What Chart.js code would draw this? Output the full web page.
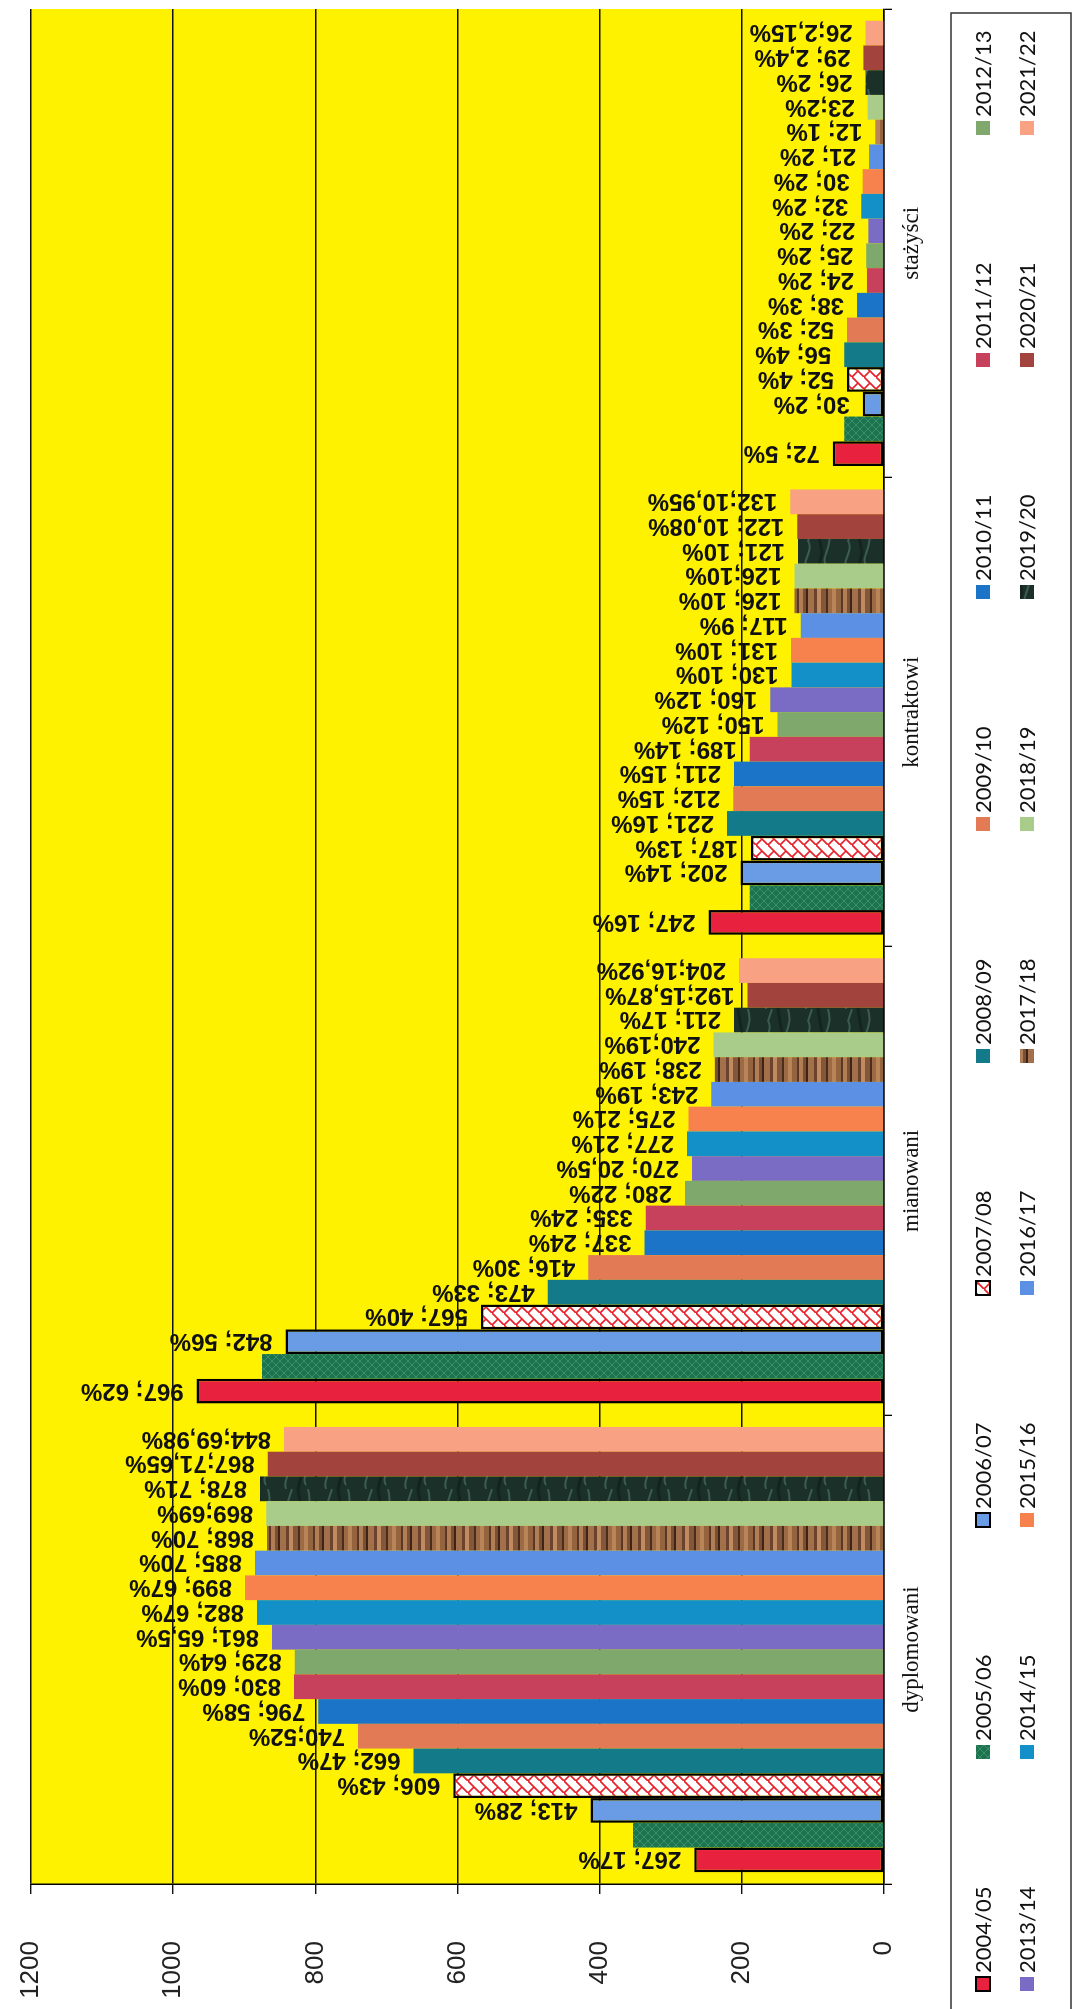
<!DOCTYPE html>
<html>
<head>
<meta charset="utf-8">
<script src="https://cdn.jsdelivr.net/npm/chart.js@4.4.0/dist/chart.umd.min.js"></script>
<style>
  body { margin: 0; background: #fff; overflow: hidden; }
  #wrap {
    position: absolute; left: 0; top: 0;
    width: 2009px; height: 1079px;
    transform-origin: 0 0;
    transform: translate(0, 2009px) rotate(-90deg);
  }
</style>
</head>
<body>
<div id="wrap"><canvas id="chart" width="2009" height="1079"></canvas></div>
<script>
// categories and series
const categories = ['dyplomowani', 'mianowani', 'kontraktowi', 'stażyści'];
const seasons = ['2004/05', '2005/06', '2006/07', '2007/08', '2008/09', '2009/10', '2010/11', '2011/12', '2012/13',
                 '2013/14', '2014/15', '2015/16', '2016/17', '2017/18', '2018/19', '2019/20', '2020/21', '2021/22'];

// values per category, one per season
const dyplomowani = [267, 353, 413, 606, 662, 740, 796, 830, 829, 861, 882, 899, 885, 868, 869, 878, 867, 844];
const mianowani   = [967, 875, 842, 567, 473, 416, 337, 335, 280, 270, 277, 275, 243, 238, 240, 211, 192, 204];
const kontraktowi = [247, 189, 202, 187, 221, 212, 211, 189, 150, 160, 130, 131, 117, 126, 126, 121, 122, 132];
const stazysci    = [72, 56, 30, 52, 56, 52, 38, 24, 25, 22, 32, 30, 21, 12, 23, 26, 29, 26];

// percent part of the data labels (2005/06 has no label)
const dyplomowaniPct = ['; 17%', null, '; 28%', '; 43%', '; 47%', ';52%', '; 58%', '; 60%', '; 64%', '; 65,5%', '; 67%', '; 67%', '; 70%', '; 70%', ';69%', '; 71%', ';71,65%', ';69,98%'];
const mianowaniPct   = ['; 62%', null, '; 56%', '; 40%', '; 33%', '; 30%', '; 24%', '; 24%', '; 22%', '; 20,5%', '; 21%', '; 21%', '; 19%', '; 19%', ';19%', '; 17%', ';15,87%', ';16,92%'];
const kontraktowiPct = ['; 16%', null, '; 14%', '; 13%', '; 16%', '; 15%', '; 15%', '; 14%', '; 12%', '; 12%', '; 10%', '; 10%', '; 9%', '; 10%', ';10%', '; 10%', '; 10,08%', ';10,95%'];
const stazysciPct    = ['; 5%', null, '; 2%', '; 4%', '; 4%', '; 3%', '; 3%', '; 2%', '; 2%', '; 2%', '; 2%', '; 2%', '; 2%', '; 1%', ';2%', '; 2%', '; 2,4%', ';2,15%'];

const valueTicks = [0, 200, 400, 600, 800, 1000, 1200];

// fills
function makePattern(w, h, draw) {
    const c = document.createElement('canvas');
    c.width = w; c.height = h;
    const g = c.getContext('2d');
    draw(g, w, h);
    return g.createPattern(c, 'repeat');
}

const greenTexture = makePattern(8, 8, (g) => {
    g.fillStyle = '#1b744d'; g.fillRect(0, 0, 8, 8);
    g.strokeStyle = '#3b8f6c'; g.lineWidth = 1;
    g.beginPath();
    g.moveTo(0, 0); g.lineTo(8, 8);
    g.moveTo(8, 0); g.lineTo(0, 8);
    g.stroke();
});

const redHatch = makePattern(12, 12, (g) => {
    g.fillStyle = '#ffffff'; g.fillRect(0, 0, 12, 12);
    g.strokeStyle = '#e8202a'; g.lineWidth = 1.7;
    g.beginPath();
    g.moveTo(-1, 13); g.lineTo(13, -1);
    g.moveTo(0, 0); g.lineTo(6, 6);
    g.stroke();
});

const wood = makePattern(6, 44, (g) => {
    const bands = [['#94643f', 5], ['#5a3825', 2], ['#b27e55', 4], ['#7a4f33', 3], ['#3c2417', 2],
                   ['#a2704a', 6], ['#6b432c', 3], ['#c08b60', 4], ['#85573a', 5], ['#4a2d1c', 2],
                   ['#9c6b46', 4], ['#b98458', 4]];
    let y = 0;
    bands.forEach(([c, h]) => { g.fillStyle = c; g.fillRect(0, y, 6, h); y += h; });
});

const marble = makePattern(40, 40, (g) => {
    g.fillStyle = '#1c302a'; g.fillRect(0, 0, 40, 40);
    g.strokeStyle = '#3c5c52'; g.lineWidth = 2;
    g.beginPath();
    g.moveTo(0, 6); g.bezierCurveTo(10, 2, 18, 14, 28, 8); g.lineTo(40, 12);
    g.moveTo(4, 26); g.bezierCurveTo(12, 20, 22, 34, 40, 28);
    g.stroke();
    g.strokeStyle = '#14241f'; g.lineWidth = 3;
    g.beginPath();
    g.moveTo(0, 18); g.lineTo(16, 22); g.lineTo(40, 18);
    g.stroke();
});

const seasonFills = ['#e8213f', greenTexture, '#6a9ce6', redHatch, '#127a88', '#e27b55', '#1c74c9', '#c8415c', '#7fa86c',
                     '#7a6cc4', '#1490c8', '#f7824e', '#5b90e4', wood, '#a9cc8a', marble, '#a3433e', '#f8a283'];
const outlined = [0, 2, 3];

const byCategory = [dyplomowani, mianowani, kontraktowi, stazysci];
const pctByCategory = [dyplomowaniPct, mianowaniPct, kontraktowiPct, stazysciPct];

const datasets = seasons.map((s, i) => ({
    label: s,
    data: byCategory.map(arr => arr[i]),
    labelText: byCategory.map((arr, k) => pctByCategory[k][i] ? arr[i] + pctByCategory[k][i] : null),
    backgroundColor: seasonFills[i],
    borderColor: '#000',
    borderWidth: outlined.includes(i) ? 2.5 : 0,
    borderSkipped: false,
    categoryPercentage: 0.95,
    barPercentage: 1
}));

// yellow plot area
const plotBg = {
    id: 'plotBg',
    beforeDraw(chart) {
        const a = chart.chartArea;
        const ctx = chart.ctx;
        ctx.save();
        ctx.fillStyle = '#fff200';
        ctx.fillRect(a.left, a.top, a.right - a.left, a.bottom - a.top);
        ctx.restore();
    }
};

// value labels above bars, rotated
const barLabels = {
    id: 'barLabels',
    afterDatasetsDraw(chart) {
        const ctx = chart.ctx;
        ctx.save();
        ctx.font = 'bold 24px "Liberation Sans", Arial, sans-serif';
        ctx.fillStyle = '#111';
        ctx.textAlign = 'left';
        ctx.textBaseline = 'middle';
        chart.data.datasets.forEach((ds, i) => {
            chart.getDatasetMeta(i).data.forEach((bar, j) => {
                const text = ds.labelText[j];
                if (!text) return;
                ctx.save();
                ctx.translate(bar.x, bar.y - 13);
                ctx.rotate(-Math.PI / 2);
                ctx.fillText(text, 0, 1);
                ctx.restore();
            });
        });
        ctx.restore();
    }
};

// legend: two rows of nine inside a frame
const legendBox = {
    id: 'legendBox',
    afterDraw(chart) {
        const ctx = chart.ctx;
        ctx.save();
        ctx.strokeStyle = '#333';
        ctx.lineWidth = 1.5;
        ctx.strokeRect(-5, 951, 2001, 120);
        ctx.font = '22px Lato, "Open Sans", sans-serif';
        ctx.textBaseline = 'middle';
        chart.data.datasets.forEach((ds, i) => {
            const col = i % 9;
            const x = 25 + col * 232;
            const y = i < 9 ? 983 : 1027;
            ctx.fillStyle = ds.backgroundColor;
            ctx.fillRect(x - 7, y - 7, 14, 14);
            if (ds.borderWidth) {
                ctx.strokeStyle = '#000';
                ctx.lineWidth = 2;
                ctx.strokeRect(x - 7, y - 7, 14, 14);
            }
            ctx.fillStyle = '#111';
            ctx.fillText(ds.label, x + 11, y + 1);
        });
        ctx.restore();
    }
};

const ctx = document.getElementById('chart').getContext('2d');
const chart = new Chart(ctx, {
    type: 'bar',
    data: { labels: categories, datasets: datasets },
    options: {
        responsive: false,
        animation: false,
        layout: { padding: { top: 31, right: 9, left: 0, bottom: 0 } },
        plugins: {
            legend: { display: false },
            tooltip: { enabled: false }
        },
        scales: {
            x: {
                grid: { display: true, drawOnChartArea: false, color: '#000', lineWidth: 1.3, tickLength: 8 },
                border: { color: '#000', width: 1.5 },
                ticks: { font: { family: '"Liberation Serif", serif', size: 23 }, color: '#111', padding: 6 },
                afterFit(scale) { scale.height = 195; }
            },
            y: {
                min: 0,
                max: 1200,
                afterBuildTicks(scale) { scale.ticks = valueTicks.map(v => ({ value: v })); },
                grid: { color: '#111', lineWidth: 1.4, tickLength: 10 },
                border: { color: '#000', width: 1.5 },
                ticks: {
                    font: { family: '"Liberation Sans", Arial, sans-serif', size: 26 },
                    color: '#222',
                    padding: 47,
                    callback: (v) => String(v)
                },
                afterFit(scale) {
                    scale.width = 125;
                    scale.paddingTop = 0;
                    scale.paddingBottom = 0;
                }
            }
        }
    },
    plugins: [plotBg, barLabels, legendBox]
});
</script>
</body>
</html>
